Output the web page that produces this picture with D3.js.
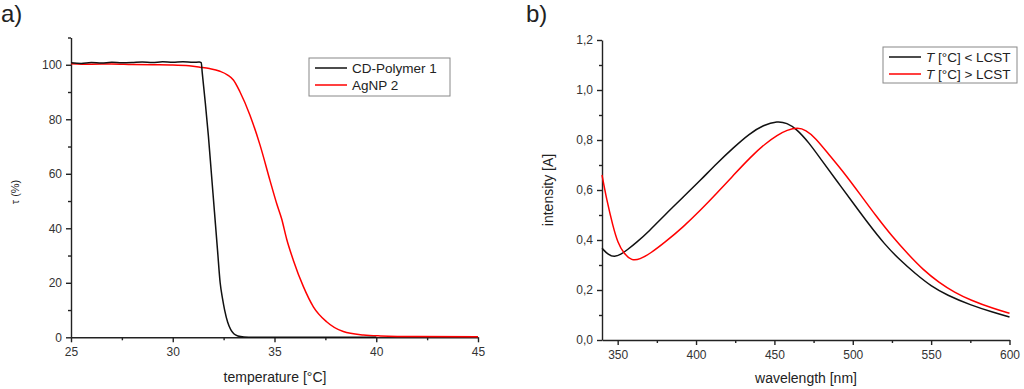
<!DOCTYPE html>
<html>
<head>
<meta charset="utf-8">
<script src="https://cdn.jsdelivr.net/npm/d3@7"></script>
<style>
    body { margin: 0; background: #fff; }
    svg { display: block; font-family: "Liberation Sans", Arial, sans-serif; }
</style>
</head>
<body>
<svg id="chart" width="1024" height="389"></svg>
<script>
/* panel a: transmittance vs temperature */
const tempTicks = [25, 30, 35, 40, 45];
const tauTicks = [0, 20, 40, 60, 80, 100];

const polymerTemp = [25, 25.5, 26, 26.5, 27, 27.5, 28, 28.5, 29, 29.5, 30, 30.5, 31, 31.3, 31.4, 31.45, 31.6, 31.75, 31.9, 32.05, 32.2, 32.33, 32.45, 32.55, 32.7, 32.85, 33.0, 33.2, 33.5, 34, 36, 40];
const polymerTau = [100.7, 100.5, 100.8, 100.6, 100.9, 100.7, 100.8, 101.0, 100.8, 101.1, 100.9, 101.1, 100.9, 101.0, 100.8, 97, 86, 74, 60, 46, 32, 20, 14, 10, 5.5, 2.8, 1.3, 0.5, 0.15, 0.05, 0, 0];

const agnpTemp = [25, 26, 27, 28, 29, 30, 30.8, 31.34, 31.8, 32.32, 32.7, 32.98, 33.3, 33.79, 34.29, 34.78, 35.11, 35.35, 35.6, 35.92, 36.42, 36.91, 37.56, 38.38, 39.37, 40.2, 42, 45];
const agnpTau = [100.4, 100.2, 100.3, 100.1, 100.0, 99.9, 99.6, 99.1, 98.6, 97.6, 96.2, 94.4, 90.1, 81.6, 70.5, 57.5, 49.0, 43.5, 36.0, 28.4, 18.6, 11.2, 5.7, 2.1, 0.85, 0.5, 0.25, 0.2];

/* panel b: UV-vis spectra */
const nmTicks = [350, 400, 450, 500, 550, 600];
const absTicks = [0, 0.2, 0.4, 0.6, 0.8, 1.0, 1.2];

const belowNm = [340, 344, 348, 352, 356, 362, 370, 380, 392, 403, 413, 424, 434, 443, 452, 458, 464, 472, 480, 490, 500, 510, 520, 530, 540, 550, 560, 575, 590, 600];
const belowAbs = [0.367, 0.34, 0.332, 0.342, 0.36, 0.39, 0.435, 0.50, 0.573, 0.64, 0.705, 0.77, 0.825, 0.86, 0.876, 0.868, 0.845, 0.79, 0.72, 0.635, 0.55, 0.465, 0.385, 0.32, 0.265, 0.215, 0.18, 0.14, 0.11, 0.092];

const aboveNm = [340, 343, 347, 350, 354, 359, 364, 371, 380, 392, 403, 413, 424, 435, 444, 452, 458, 465, 470, 476, 485, 495, 505, 515, 525, 535, 545, 555, 565, 575, 590, 600];
const aboveAbs = [0.66, 0.56, 0.455, 0.39, 0.345, 0.317, 0.322, 0.347, 0.39, 0.453, 0.52, 0.585, 0.66, 0.733, 0.785, 0.82, 0.84, 0.85, 0.84, 0.81, 0.74, 0.665, 0.58, 0.495, 0.415, 0.345, 0.28, 0.23, 0.19, 0.16, 0.125, 0.107];

const svg = d3.select("#chart");

function zip(xs, ys) {
    return xs.map((x, i) => [x, ys[i]]);
}

function drawPanel(opts) {
    const g = svg.append("g");
    const x = d3.scaleLinear().domain(opts.xDomain).range(opts.xRange);
    const y = d3.scaleLinear().domain(opts.yDomain).range(opts.yRange);

    // minor ticks
    g.append("g")
        .attr("transform", `translate(0,${opts.yRange[0]})`)
        .call(d3.axisBottom(x).tickValues(opts.xMinor).tickSize(3).tickFormat(""))
        .call(a => a.select(".domain").remove());
    g.append("g")
        .attr("transform", `translate(${opts.xRange[0]},0)`)
        .call(d3.axisLeft(y).tickValues(opts.yMinor).tickSize(3).tickFormat(""))
        .call(a => a.select(".domain").remove());

    const xa = g.append("g")
        .attr("transform", `translate(0,${opts.yRange[0]})`)
        .call(d3.axisBottom(x).tickValues(opts.xTicks).tickSize(5).tickSizeOuter(0).tickPadding(5));
    const ya = g.append("g")
        .attr("transform", `translate(${opts.xRange[0]},0)`)
        .call(d3.axisLeft(y).tickValues(opts.yTicks).tickSize(5).tickSizeOuter(0).tickPadding(4).tickFormat(opts.yFormat));

    g.selectAll(".domain, .tick line").attr("stroke", "#222").attr("stroke-width", 1.4);
    [xa, ya].forEach(a => a.selectAll("text")
        .attr("font-size", 12)
        .attr("fill", "#333")
        .attr("font-family", "'Liberation Sans', Arial, sans-serif"));

    const line = d3.line().x(d => x(d[0])).y(d => y(d[1])).curve(opts.curve);
    opts.series.forEach(s => {
        g.append("path")
            .datum(s.data)
            .attr("fill", "none")
            .attr("stroke", s.color)
            .attr("stroke-width", 1.5)
            .attr("d", line);
    });
    return g;
}

drawPanel({
    xDomain: [25, 45], xRange: [71, 478],
    yDomain: [0, 110], yRange: [337.3, 37.5],
    xTicks: tempTicks, xMinor: [27.5, 32.5, 37.5, 42.5],
    yTicks: tauTicks, yMinor: [10, 30, 50, 70, 90, 110],
    yFormat: d3.format("d"),
    curve: d3.curveMonotoneX,
    series: [
        { data: zip(agnpTemp, agnpTau), color: "#ff0000" },
        { data: zip(polymerTemp, polymerTau), color: "#111" }
    ]
});

drawPanel({
    xDomain: [340, 600], xRange: [602, 1009.5],
    yDomain: [0, 1.2], yRange: [340, 40],
    xTicks: nmTicks, xMinor: [375, 425, 475, 525, 575],
    yTicks: absTicks, yMinor: [0.1, 0.3, 0.5, 0.7, 0.9, 1.1],
    yFormat: d => d3.format(".1f")(d).replace(".", ","),
    curve: d3.curveBasis,
    series: [
        { data: zip(belowNm, belowAbs), color: "#111" },
        { data: zip(aboveNm, aboveAbs), color: "#ff0000" }
    ]
});

// panel letters
svg.append("text").attr("x", 1).attr("y", 22).attr("font-size", 24).attr("fill", "#222").text("a)");
svg.append("text").attr("x", 526).attr("y", 22).attr("font-size", 24).attr("fill", "#222").text("b)");

// axis titles
svg.append("text").attr("x", 275).attr("y", 382).attr("text-anchor", "middle")
    .attr("font-size", 14).attr("fill", "#222").text("temperature [°C]");
svg.append("text").attr("transform", "translate(19,192) rotate(-90)").attr("text-anchor", "middle")
    .attr("font-size", 11).attr("fill", "#222").text("τ (%)");
svg.append("text").attr("x", 806).attr("y", 383).attr("text-anchor", "middle")
    .attr("font-size", 14).attr("fill", "#222").text("wavelength [nm]");
svg.append("text").attr("transform", "translate(553,190) rotate(-90)").attr("text-anchor", "middle")
    .attr("font-size", 14).attr("fill", "#222").text("intensity [A]");

// legends
function legend(x0, y0, w, h, items) {
    const g = svg.append("g").attr("transform", `translate(${x0},${y0})`);
    g.append("rect").attr("width", w).attr("height", h)
        .attr("fill", "#fff").attr("stroke", "#888").attr("stroke-width", 1);
    items.forEach((it, i) => {
        const cy = 10 + i * 17;
        g.append("line").attr("x1", 6).attr("x2", 38).attr("y1", cy).attr("y2", cy)
            .attr("stroke", it.color).attr("stroke-width", 1.5);
        const t = g.append("text").attr("x", 43).attr("y", cy + 5)
            .attr("font-size", 13.5).attr("fill", "#222");
        it.parts.forEach(p => t.append("tspan").attr("font-style", p.italic ? "italic" : null).text(p.text));
    });
}

legend(309, 58, 141, 38, [
    { color: "#111", parts: [{ text: "CD-Polymer 1" }] },
    { color: "#ff0000", parts: [{ text: "AgNP 2" }] }
]);
legend(883, 47, 134, 36, [
    { color: "#111", parts: [{ text: "T", italic: true }, { text: " [°C] < LCST" }] },
    { color: "#ff0000", parts: [{ text: "T", italic: true }, { text: " [°C] > LCST" }] }
]);
</script>
</body>
</html>
